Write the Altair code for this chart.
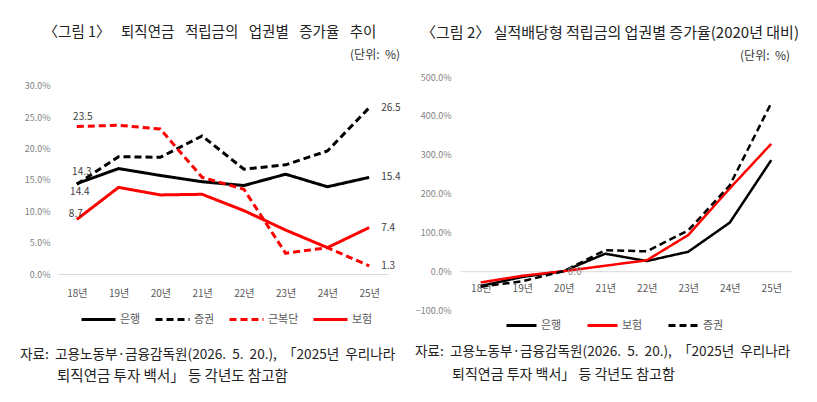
import altair as alt
import pandas as pd

FONT = "Noto Sans CJK KR"
EN = "\u2002"
NB = "\u00a0"

years = ["18년", "19년", "20년", "21년", "22년", "23년", "24년", "25년"]

# 그림 1: 퇴직연금 적립금의 업권별 증가율 (%)
series1 = ["은행", "증권", "근복단", "보험"]
bank1 = [14.4, 16.8, 15.7, 14.7, 14.1, 15.9, 13.9, 15.4]
sec1 = [14.3, 18.7, 18.6, 22.0, 16.7, 17.4, 19.6, 26.5]
welfare1 = [23.5, 23.7, 23.1, 15.4, 13.5, 3.3, 4.2, 1.3]
ins1 = [8.7, 13.8, 12.6, 12.7, 10.1, 7.0, 4.2, 7.4]
yticks1 = [0, 5, 10, 15, 20, 25, 30]

# 그림 2: 실적배당형 적립금의 업권별 증가율 (2020년 대비, %)
series2 = ["은행", "보험", "증권"]
bank2 = [-38, -15, 0, 45, 26, 50, 125, 286]
ins2 = [-29, -12, 0, 14, 28, 93, 213, 328]
sec2 = [-40, -26, 0, 54, 51, 105, 221, 433]
yticks2 = [-100, 0, 100, 200, 300, 400, 500]

title1 = (" " + EN).join(["〈그림 1〉", "퇴직연금", "적립금의", "업권별", "증가율", "추이"])
title2 = "〈그림 2〉 실적배당형 적립금의 업권별 증가율(2020년 대비)"
unit = "(단위:" + NB + " %)"
source_l1 = (" " + NB).join(["자료:", "고용노동부·금융감독원(2026.", "5.", "20.),", "「2025년", "우리나라"])
source_l2 = " ".join(["퇴직연금", "투자", "백서」", "등", "각년도", "참고함"])


def long(names, arrays):
    rows = []
    for n, arr in zip(names, arrays):
        for y, v in zip(years, arr):
            rows.append({"series": n, "year": y, "value": v, "label": f"{v:.1f}"})
    return pd.DataFrame(rows)


df1 = long(series1, [bank1, sec1, welfare1, ins1])
df2 = long(series2, [bank2, ins2, sec2])


def text_layer(txt, x, y, size, align="left", color="#222222"):
    return alt.Chart(pd.DataFrame({"t": [txt]})).mark_text(
        font=FONT, fontSize=size, align=align, baseline="middle", color=color
    ).encode(text="t:N", x=alt.value(x), y=alt.value(y))


def legend_cfg(lx, ly, pad, size):
    return alt.Legend(
        orient="none", legendX=lx, legendY=ly, direction="horizontal", title=None,
        symbolType="stroke", symbolSize=size, symbolStrokeWidth=3,
        labelFont=FONT, labelFontSize=11, labelColor="#595959",
        columnPadding=pad, labelOffset=3, gridAlign="none",
    )


pct_expr = "format(datum.value, '.1f') + '%'"
DASH = [7, 4]

# ---------- Panel 1 ----------
W1, H1 = 330, 197
x1 = alt.X("year:N", sort=years, scale=alt.Scale(type="point", padding=0.45),
           axis=alt.Axis(title=None, labelAngle=0, labelFont=FONT, labelFontSize=10,
                         labelColor="#595959", ticks=False, tickSize=0, labelPadding=14,
                         domainColor="#d9d9d9", domainWidth=1))
y1 = alt.Y("value:Q", scale=alt.Scale(domain=[0, 31.39], nice=False, zero=False),
           axis=alt.Axis(title=None, values=yticks1, labelExpr=pct_expr, grid=False,
                         domain=False, ticks=False, tickSize=0, labelFont=FONT,
                         labelFontSize=9, labelColor="#7f7f7f", labelPadding=8))
leg1 = legend_cfg(22, 224, 8, 1156)
base1 = alt.Chart(df1).encode(x=x1, y=y1)
lines1 = base1.mark_line(strokeWidth=3).encode(
    color=alt.Color("series:N", scale=alt.Scale(domain=series1, range=["#000000", "#000000", "#ff0000", "#ff0000"]), legend=leg1),
    strokeDash=alt.StrokeDash("series:N", scale=alt.Scale(domain=series1, range=[[1, 0], DASH, DASH, [1, 0]]), legend=leg1),
)
lab_style = dict(font=FONT, fontSize=10, color="#404040")
end1 = base1.mark_text(align="left", baseline="middle", dx=12, **lab_style).encode(text="label:N").transform_filter(alt.datum.year == "25년")
s_bank = base1.mark_text(align="center", baseline="middle", dx=3, dy=8, **lab_style).encode(text="label:N").transform_filter((alt.datum.year == "18년") & (alt.datum.series == "은행"))
s_sec = base1.mark_text(align="center", baseline="middle", dx=5, dy=-12, **lab_style).encode(text="label:N").transform_filter((alt.datum.year == "18년") & (alt.datum.series == "증권"))
s_wel = base1.mark_text(align="center", baseline="middle", dx=6, dy=-10, **lab_style).encode(text="label:N").transform_filter((alt.datum.year == "18년") & (alt.datum.series == "근복단"))
s_ins = base1.mark_text(align="center", baseline="middle", dx=-1, dy=-5, **lab_style).encode(text="label:N").transform_filter((alt.datum.year == "18년") & (alt.datum.series == "보험"))

panel1 = alt.layer(
    lines1, end1, s_bank, s_sec, s_wel, s_ins,
    text_layer(title1, 152, -44, 14.5, "center"),
    text_layer(unit, 342, -22, 12, "right", "#333333"),
    text_layer(source_l1, -38, 278, 13.6, "left"),
    text_layer(source_l2, -1, 300, 14.5, "left"),
).properties(width=W1, height=H1)

# ---------- Panel 2 ----------
W2, H2 = 332, 233
x2 = alt.X("year:N", sort=years, scale=alt.Scale(type="point", padding=0.5),
           axis=alt.Axis(title=None, labelAngle=0, labelFont=FONT, labelFontSize=10,
                         labelColor="#595959", ticks=False, tickSize=0, labelPadding=12,
                         domainColor="#d9d9d9", domainWidth=1, offset=-38.8))
y2 = alt.Y("value:Q", scale=alt.Scale(domain=[-100, 500], nice=False, zero=False),
           axis=alt.Axis(title=None, values=yticks2, labelExpr=pct_expr, grid=False,
                         domain=False, ticks=False, tickSize=0, labelFont=FONT,
                         labelFontSize=9, labelColor="#7f7f7f", labelPadding=9))
leg2 = legend_cfg(45, 232, 19, 900)
base2 = alt.Chart(df2).encode(x=x2, y=y2)
lines2 = base2.mark_line(strokeWidth=2.5).encode(
    color=alt.Color("series:N", scale=alt.Scale(domain=series2, range=["#000000", "#ff0000", "#000000"]), legend=leg2),
    strokeDash=alt.StrokeDash("series:N", scale=alt.Scale(domain=series2, range=[[1, 0], [1, 0], DASH]), legend=leg2),
)
zero_lab = base2.mark_text(align="center", baseline="middle", dx=11, dy=1, font=FONT, fontSize=10, color="#8c8c8c").encode(text="label:N").transform_filter((alt.datum.year == "20년") & (alt.datum.series == "은행"))

panel2 = alt.layer(
    lines2, zero_lab,
    text_layer(title2, 150, -44, 15, "center"),
    text_layer(unit, 330, -21, 12, "right", "#333333"),
    text_layer(source_l1, -45, 275, 13.6, "left"),
    text_layer(source_l2, -8, 298, 14, "left"),
).properties(width=W2, height=H2)

chart = alt.hconcat(panel1, panel2, spacing=72, bounds="flush").resolve_scale(
    color="independent", strokeDash="independent", x="independent", y="independent"
).properties(
    padding={"left": 12, "top": 17, "right": 2, "bottom": 2},
    background="white",
).configure_view(stroke=None)

chart.save("out.html", embed_options={"renderer": "svg", "actions": False})
